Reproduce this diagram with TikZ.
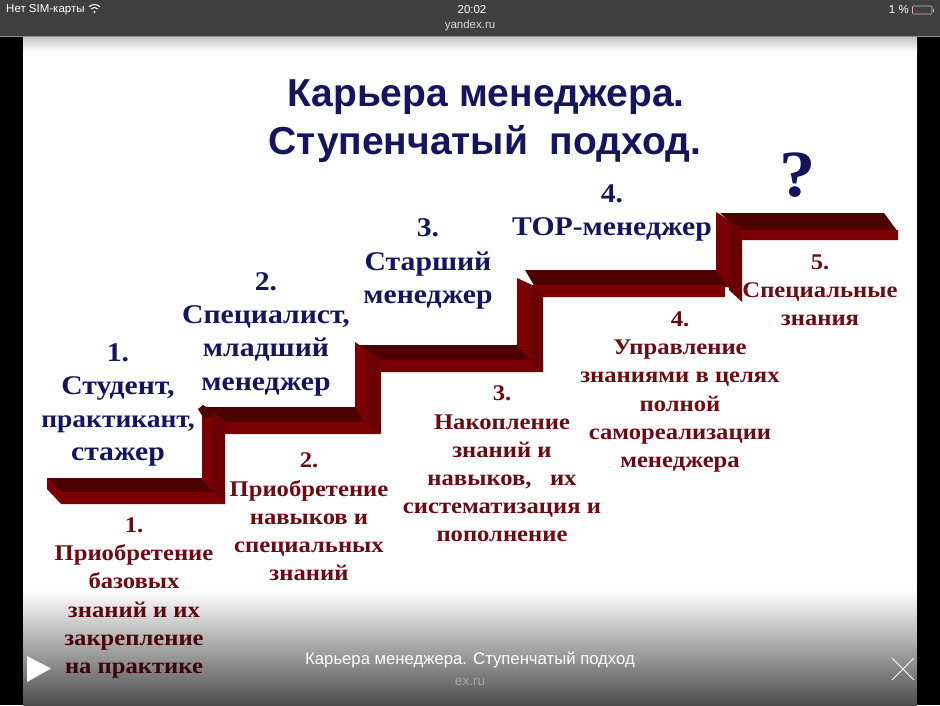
\documentclass[tikz,border=0pt]{standalone}
\usepackage{fontspec}
\setmainfont{Liberation Serif}
\newfontfamily\uifont{Liberation Sans}
\newfontfamily\wideserif[FakeStretch=1.1]{Liberation Serif}
\definecolor{navyt}{HTML}{14145F}
\definecolor{marT}{HTML}{6E0A12}
\definecolor{stepdark}{HTML}{4C0000}
\definecolor{stepfront}{HTML}{7A0004}
\definecolor{stepside}{HTML}{6A0002}
\tikzset{
  navyblock/.style={align=center,text=navyt,inner sep=0pt,font=\wideserif\bfseries\fontsize{27}{33.3}\selectfont},
  marblock/.style={align=center,text=marT,inner sep=0pt,font=\wideserif\bfseries\fontsize{22.4}{28.2}\selectfont},
  titleline/.style={text=navyt,inner sep=0pt,font=\uifont\bfseries\fontsize{39}{44}\selectfont},
  uitext/.style={text=white,inner sep=0pt,font=\uifont\fontsize{11.5}{14}\selectfont},
  topface/.style={fill=stepdark},
  frontface/.style={fill=stepfront},
  sideface/.style={fill=stepside}
}
\begin{document}
\begin{tikzpicture}[x=1pt,y=-1pt]
\useasboundingbox (0,0) rectangle (940,705);
\fill[black] (0,0) rectangle (940,705);
\fill[white] (23,37) rectangle (917,705);
\shade[top color=black!22,bottom color=white] (23,37) rectangle (917,52);
\fill[black!75] (0,0) rectangle (940,36);
\fill[black!45] (0,36) rectangle (940,37);
% status bar
\node[uitext,anchor=west] (carrier) at (6,10) {Нет SIM-карты};
\draw[white,line width=1pt] (89.2,6.7) arc[start angle=225,end angle=315,radius=7.5];
\draw[white,line width=1pt] (91.3,8.8) arc[start angle=225,end angle=315,radius=4.5];
\fill[white] (94.5,12) circle (1.2);
\node[uitext] (clock) at (472,10) {20:02};
\node[uitext,text=black!15] (site) at (470,26) {yandex.ru};
\node[uitext,anchor=east] (pct) at (909,10) {1 \%};
\draw[white!75!black,line width=0.6pt,rounded corners=1pt] (912.5,6) rectangle (932,14);
\fill[red!70!black] (913.3,6.7) rectangle (914.2,13.3);
\fill[white!75!black] (932.8,8.5) rectangle (934,11.5);
% title
\node[titleline] (t1) at (486,97) {Карьера менеджера.};
\node[titleline] (t2) at (485,144) {Ступенчатый\ \ подход.};
\node[text=navyt,inner sep=0pt,font=\wideserif\bfseries\fontsize{66}{66}\selectfont] (q) at (798,175) {?};
% step 5
\fill[topface] (720,213) -- (884,213) -- (898,232) -- (742,232) -- cycle;
\fill[frontface] (735,230) -- (898,230) -- (898,240) -- (742,240) -- cycle;
% step 4
\fill[topface] (525,270) -- (716,270) -- (730,287) -- (535,287) -- cycle;
\fill[frontface] (530,285) -- (725,285) -- (725,297) -- (543,297) -- cycle;
% step 3
\fill[topface] (358,345) -- (520,345) -- (533,362) -- (375,362) -- cycle;
\fill[frontface] (370,360) -- (520,360) -- (543,360) -- (543,372) -- (381,372) -- cycle;
% step 2
\fill[topface] (200,407) -- (355,407) -- (368,424) -- (222,424) -- cycle;
\fill[frontface] (218,422) -- (380,422) -- (380,434) -- (225,434) -- cycle;
% step 1
\fill[topface] (47,478) -- (202,478) -- (225,493) -- (62,493) -- cycle;
\fill[frontface] (47,478) -- (47,489) -- (61,504) -- (225,504) -- (225,492) -- (62,492) -- cycle;
% risers
\fill[frontface] (202,405) -- (212,412) -- (212,490) -- (202,480) -- cycle;
\fill[sideface] (212,412) -- (225,420) -- (225,504) -- (212,490) -- cycle;
\fill[stepdark] (198,409) -- (203,405) -- (212,410) -- (212,417) -- (203,417) -- cycle;
\fill[frontface] (355,342) -- (367,350) -- (367,424) -- (355,408) -- cycle;
\fill[sideface] (367,350) -- (381,357) -- (381,434) -- (367,424) -- cycle;
\fill[frontface] (517,278) -- (530,284) -- (530,360) -- (517,346) -- cycle;
\fill[sideface] (530,284) -- (543,292) -- (543,372) -- (530,362) -- cycle;
\fill[frontface] (716,212) -- (729,220) -- (729,288) -- (716,271) -- cycle;
\fill[sideface] (729,220) -- (742,228) -- (742,302) -- (729,290) -- cycle;
% navy labels
\node[navyblock] (n1) at (118,405) {1.\\Студент,\\{\fontsize{25}{33.3}\selectfont практикант,}\\стажер};
\node[navyblock] (n2) at (266,334) {2.\\Специалист,\\младший\\менеджер};
\node[navyblock] (n3) at (428,264) {3.\\Старший\\менеджер};
\node[navyblock] (n4) at (612,213) {4.\\ТОР-менеджер};
% maroon labels
\node[marblock] (m1) at (134,598) {1.\\Приобретение\\базовых\\знаний и их\\закрепление\\на практике};
\node[marblock] (m2) at (309,517) {2.\\Приобретение\\навыков и\\специальных\\знаний};
\node[marblock] (m3) at (502,464) {3.\\Накопление\\знаний и\\навыков,\ \ \ их\\систематизация и\\пополнение};
\node[marblock] (m4) at (680,392) {4.\\Управление\\знаниями в целях\\полной\\самореализации\\менеджера};
\node[marblock] (m5) at (820,290) {5.\\Специальные\\знания};
% bottom overlay
\foreach \i in {0,...,57}{
  \pgfmathsetmacro{\op}{(\i+0.5)/58*0.70}
  \fill[black,opacity=\op] (23,{590+\i*2}) rectangle (917,{592+\i*2});
}
\fill[white] (27,656) -- (51,668.5) -- (27,682) -- cycle;
\draw[white,line width=0.9pt] (892,658) -- (914,680) (914,658) -- (892,680);
\node[uitext,font=\uifont\fontsize{16.7}{20}\selectfont] (cap) at (470,660) {Карьера менеджера. Ступенчатый подход};
\node[uitext,text=black!35,font=\uifont\fontsize{13.5}{16}\selectfont] (src) at (470,682) {ex.ru};
\end{tikzpicture}
\end{document}
